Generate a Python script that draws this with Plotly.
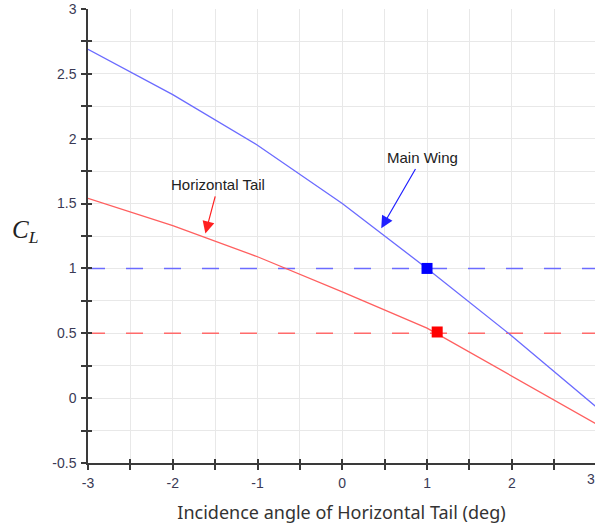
import plotly.graph_objects as go

# Data
incidence = [-3, -2, -1, 0, 1, 2, 3]
cl_main_wing = [2.69, 2.34, 1.95, 1.50, 1.00, 0.48, -0.07]
cl_tail = [1.54, 1.33, 1.09, 0.82, 0.54, 0.17, -0.20]
target_x = [1.0, 1.12]
target_cl = [1.0, 0.51]
x_span = [-3, 3]
ref_main = [1.0, 1.0]
ref_tail = [0.5, 0.5]
x_tickvals = [-3, -2, -1, 0, 1, 2]
x_ticktext = ["-3", "-2", "-1", "0", "1", "2"]
y_tickvals = [-0.5, 0, 0.5, 1, 1.5, 2, 2.5, 3]
y_ticktext = ["-0.5", "0", "0.5", "1", "1.5", "2", "2.5", "3"]

BLUE = "#6b6bff"
RED = "#ff5f5f"

fig = go.Figure()
fig.add_trace(go.Scatter(x=x_span, y=ref_main, mode="lines",
                         line=dict(color="#6b6bff", width=1.6, dash="17px,21px"),
                         showlegend=False, hoverinfo="skip"))
fig.add_trace(go.Scatter(x=x_span, y=ref_tail, mode="lines",
                         line=dict(color="#ff6b6b", width=1.6, dash="17px,21px"),
                         showlegend=False, hoverinfo="skip"))
fig.add_trace(go.Scatter(x=incidence, y=cl_main_wing, mode="lines",
                         line=dict(color=BLUE, width=1.3), name="Main Wing", showlegend=False))
fig.add_trace(go.Scatter(x=incidence, y=cl_tail, mode="lines",
                         line=dict(color=RED, width=1.3), name="Horizontal Tail", showlegend=False))
fig.add_trace(go.Scatter(x=[target_x[0]], y=[target_cl[0]], mode="markers",
                         marker=dict(symbol="square", size=11, color="#0000ff"), showlegend=False))
fig.add_trace(go.Scatter(x=[target_x[1]], y=[target_cl[1]], mode="markers",
                         marker=dict(symbol="square", size=11, color="#ff0000"), showlegend=False))
# invisible trace on overlay axes for cross ticks
fig.add_trace(go.Scatter(x=[-3], y=[-0.5], xaxis="x2", yaxis="y2", mode="markers",
                         marker=dict(opacity=0), showlegend=False, hoverinfo="skip"))

tickfont = dict(family="Liberation Sans, Arial", size=14, color="#3a3a55")
grid = "#e8e8e8"
AX = "#3a3a3a"
XR = [-3, 2.982]
YR = [-0.5, 3]

fig.update_layout(
    width=595, height=531,
    margin=dict(l=88, r=0, t=9, b=68),
    paper_bgcolor="white", plot_bgcolor="white",
    xaxis=dict(range=XR, tickmode="array", tickvals=x_tickvals, ticktext=x_ticktext,
               showgrid=True, gridcolor=grid, gridwidth=1,
               zeroline=False, showline=True, linecolor=AX, linewidth=1.5,
               ticks="outside", ticklen=5, tickwidth=1.5, tickcolor=AX,
               minor=dict(dtick=0.5, tick0=-3, showgrid=True, gridcolor=grid, ticks="outside",
                          ticklen=5, tickwidth=1.5, tickcolor=AX),
               tickfont=tickfont, ticklabelstandoff=1,
               title=dict(text="Incidence angle of Horizontal Tail (deg)",
                          font=dict(family="Noto Sans", size=18, color="#333"),
                          standoff=17)),
    yaxis=dict(range=YR, tickmode="array", tickvals=y_tickvals, ticktext=y_ticktext,
               showgrid=True, gridcolor=grid, gridwidth=1,
               zeroline=False, showline=True, linecolor=AX, linewidth=1.5,
               ticks="outside", ticklen=5, tickwidth=1.5, tickcolor=AX,
               minor=dict(dtick=0.25, tick0=0, showgrid=True, gridcolor=grid, ticks="outside",
                          ticklen=5, tickwidth=1.5, tickcolor=AX),
               tickfont=tickfont, ticklabelstandoff=2),
    xaxis2=dict(overlaying="x", range=XR, dtick=0.5, tick0=-3, showgrid=False, zeroline=False,
                showline=False, ticks="inside", ticklen=4, tickwidth=1.5, tickcolor=AX,
                showticklabels=False, anchor="y2", side="bottom"),
    yaxis2=dict(overlaying="y", range=YR, dtick=0.25, tick0=0, showgrid=False, zeroline=False,
                showline=False, ticks="inside", ticklen=4, tickwidth=1.5, tickcolor=AX,
                showticklabels=False, anchor="x2", side="left"),
    showlegend=False,
)

ann_font = dict(family="Liberation Sans, Arial", size=15, color="#222")
fig.add_annotation(x=0.46, y=1.31, text="Main Wing", showarrow=True, ax=41, ay=-71,
                   font=ann_font, arrowhead=2, arrowsize=2, arrowwidth=1.2,
                   arrowcolor="#2020ff", startstandoff=2)
fig.add_annotation(x=-1.615, y=1.27, text="Horizontal Tail", showarrow=True, ax=13, ay=-49,
                   font=ann_font, arrowhead=2, arrowsize=2, arrowwidth=1.2,
                   arrowcolor="#ff2020", startstandoff=2)
# y-axis title C_L
fig.add_annotation(xref="paper", yref="paper", x=-0.124, y=0.51, xanchor="center",
                   text="<i>C</i><sub><i>L</i></sub>", showarrow=False,
                   font=dict(family="Liberation Serif, Times New Roman", size=25, color="#222"))
# partly visible last x tick label
fig.add_annotation(xref="paper", yref="paper", x=1.003, y=0, yanchor="top", yshift=-6,
                   text="3", showarrow=False, font=tickfont)

fig.write_html("out.html")
